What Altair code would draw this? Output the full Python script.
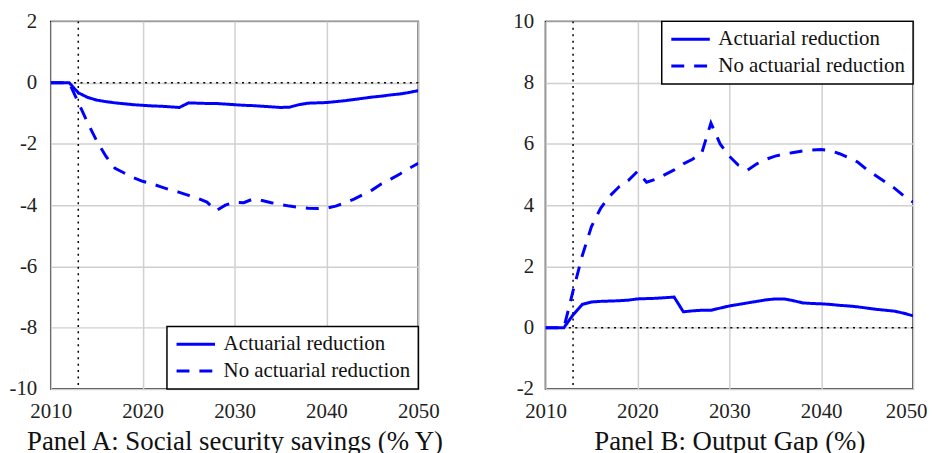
import altair as alt
import pandas as pd

years = list(range(2010, 2051))
series_names = ["Actuarial reduction", "No actuarial reduction"]

# Panel A: Social security savings (% Y)
a_actuarial = [0, 0, 0, -0.33, -0.48, -0.57, -0.62, -0.66, -0.69, -0.72,
               -0.74, -0.76, -0.77, -0.79, -0.81, -0.66, -0.67, -0.68, -0.68, -0.70,
               -0.72, -0.74, -0.75, -0.77, -0.79, -0.81, -0.80, -0.72, -0.67, -0.66,
               -0.65, -0.62, -0.59, -0.55, -0.51, -0.47, -0.44, -0.40, -0.37, -0.32,
               -0.26]
a_no_actuarial = [0, 0, 0, -0.65, -1.3, -1.9, -2.4, -2.8, -2.95, -3.1,
                  -3.22, -3.3, -3.4, -3.5, -3.58, -3.68, -3.78, -3.9, -4.18, -4.0,
                  -3.9, -3.92, -3.8, -3.85, -3.92, -3.98, -4.03, -4.07, -4.1, -4.11,
                  -4.1, -4.03, -3.93, -3.8, -3.65, -3.5, -3.3, -3.15, -2.98, -2.8,
                  -2.63]

# Panel B: Output Gap (%)
b_actuarial = [0, 0, 0, 0.42, 0.76, 0.84, 0.86, 0.87, 0.88, 0.90,
               0.94, 0.95, 0.96, 0.98, 1.0, 0.52, 0.55, 0.57, 0.57, 0.64,
               0.71, 0.76, 0.81, 0.86, 0.91, 0.94, 0.94, 0.88, 0.81, 0.79,
               0.78, 0.76, 0.73, 0.71, 0.68, 0.64, 0.60, 0.57, 0.54, 0.47,
               0.39]
b_no_actuarial = [0, 0, 0, 1.2, 2.35, 3.3, 3.9, 4.3, 4.6, 4.8,
                  5.1, 4.75, 4.85, 5.0, 5.15, 5.35, 5.5, 5.7, 6.68, 6.0,
                  5.6, 5.3, 5.15, 5.35, 5.5, 5.6, 5.67, 5.72, 5.77, 5.8,
                  5.82, 5.78, 5.68, 5.55, 5.4, 5.15, 4.95, 4.75, 4.55, 4.3,
                  4.1]

x_ticks = [2010, 2020, 2030, 2040, 2050]
a_ticks = [2, 0, -2, -4, -6, -8, -10]
b_ticks = [10, 8, 6, 4, 2, 0, -2]
shock_year = 2013
zero_level = 0

FONT = "Liberation Serif"
BLUE = "#0000ff"


def panel(act, noact, ydomain, yticks, title, legend_orient, ypad, last_label_shift):
    df = pd.DataFrame({
        "year": years * 2,
        "value": act + noact,
        "series": [series_names[0]] * len(years) + [series_names[1]] * len(years),
    })
    xscale = alt.Scale(domain=[2010, 2050], nice=False, zero=False)
    yscale = alt.Scale(domain=ydomain, nice=False, zero=False)
    x = alt.X("year:Q", scale=xscale,
              axis=alt.Axis(values=x_ticks, format="d", title=title,
                            labelFlush=False, labelOverlap=False,
                            labelOffset={"condition": {"test": "datum.value == 2050",
                                                       "value": last_label_shift},
                                         "value": 0}))
    y = alt.Y("value:Q", scale=yscale,
              axis=alt.Axis(values=yticks, title=None, labelExpr="'' + datum.value",
                            labelPadding=ypad, labelFlush=False, labelOverlap=False))
    lines = alt.Chart(df).mark_line(color=BLUE, strokeWidth=3, clip=True).encode(
        x=x, y=y,
        strokeDash=alt.StrokeDash(
            "series:N",
            scale=alt.Scale(domain=series_names, range=[[1, 0], [13, 10]]),
            legend=alt.Legend(orient=legend_orient, title=None),
        ),
    )
    ref = pd.DataFrame({"year": [shock_year], "value": [zero_level]})
    vrule = alt.Chart(ref).mark_rule(color="black", strokeDash=[2, 4.5], strokeWidth=1.5).encode(
        x=alt.X("year:Q", scale=xscale))
    hrule = alt.Chart(ref).mark_rule(color="black", strokeDash=[2, 4.5], strokeWidth=1.5).encode(
        y=alt.Y("value:Q", scale=yscale))
    return alt.layer(vrule, hrule, lines).properties(width=370, height=370)


left = panel(a_actuarial, a_no_actuarial, [-10, 2], a_ticks,
             "Panel A: Social security savings (% Y)", "bottom-right", 14, 0)
right = panel(b_actuarial, b_no_actuarial, [-2, 10], b_ticks,
              "Panel B: Output Gap (%)", "top-right", 12, -7)

chart = alt.hconcat(left, right, spacing=67).resolve_legend(
    strokeDash="independent"
).properties(
    padding=0
).configure_view(
    stroke="black", strokeWidth=1.5
).configure_axis(
    labelFont=FONT, labelFontSize=21, labelColor="#222",
    titleFont=FONT, titleFontSize=27, titleColor="#111", titleFontWeight="normal",
    titlePadding=7,
    grid=True, gridColor="#d0d0d0", gridWidth=1.5,
    domain=False, ticks=False, tickSize=0, labelPadding=12,
).configure_legend(
    labelFont=FONT, labelFontSize=21, labelColor="#111", labelLimit=0,
    symbolSize=1500, symbolStrokeWidth=3, symbolStrokeColor=BLUE,
    clipHeight=20, rowPadding=6, padding=8, offset=0,
    strokeColor="black", strokeWidth=1.5, fillColor="white", cornerRadius=0,
    labelOffset=7,
)

chart.save("out.html", embed_options={"renderer": "svg", "actions": False})
